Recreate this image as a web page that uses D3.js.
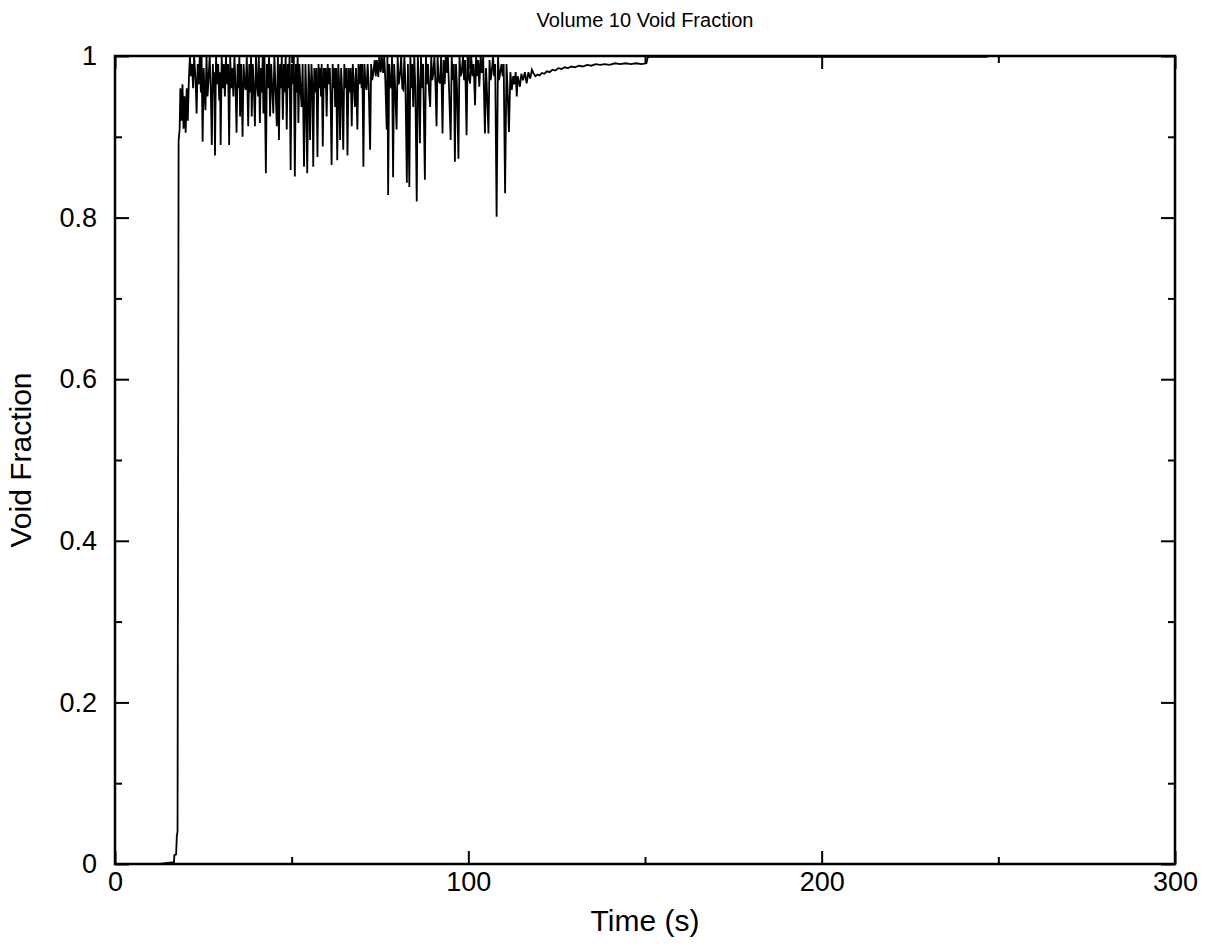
<!DOCTYPE html>
<html>
<head>
<meta charset="utf-8">
<script src="https://cdn.jsdelivr.net/npm/d3@7"></script>
<style>
  body { margin: 0; background: #fff; }
  text { font-family: "Liberation Sans", Arial, sans-serif; }
</style>
</head>
<body>
<div id="chart"></div>
<script>
// time (s), void fraction
const initialRise = [
  [0, 0], [12.7, 0], [16.0, 0.002], [16.7, 0.002], [16.8, 0.011], [17.3, 0.012],
  [17.5, 0.035], [17.7, 0.04], [18.0, 0.895], [18.3, 0.91], [18.5, 0.96],
  [18.8, 0.92], [19.1, 0.965], [19.4, 0.91], [19.7, 0.95], [20.0, 0.905],
  [20.3, 0.96], [20.6, 0.92], [20.9, 0.97]
];

const oscillation = [
  [21.2, 1], [21.5, 0.975], [21.8, 0.99], [22.1, 0.96], [22.4, 1], [22.8, 0.97], [23.1, 0.929],
  [23.4, 0.99], [23.7, 0.965], [24.0, 1], [24.3, 0.955], [24.5, 1], [24.8, 0.894], [25.1, 0.985],
  [25.3, 0.96], [25.6, 0.933], [25.9, 1], [26.2, 0.95], [26.5, 0.975], [26.8, 1], [27.1, 0.96],
  [27.4, 0.89], [27.7, 0.99], [27.9, 0.955], [28.1, 0.98], [28.3, 0.877], [28.6, 1], [28.9, 0.965],
  [29.2, 0.99], [29.5, 0.945], [29.7, 0.98], [29.9, 0.89], [30.2, 1], [30.5, 0.96], [30.8, 0.99],
  [31.1, 0.95], [31.4, 1], [31.7, 0.965], [32.0, 0.99], [32.3, 0.89], [32.6, 1], [32.9, 0.96],
  [33.2, 0.985], [33.5, 0.95], [33.8, 1], [34.1, 0.965], [34.4, 0.905], [34.7, 0.99], [35.0, 0.96],
  [35.2, 1], [35.4, 0.925], [35.7, 0.99], [36.1, 0.9], [36.4, 0.99], [36.7, 0.965], [37.0, 0.958],
  [37.3, 1], [37.7, 0.913], [38.0, 0.99], [38.3, 0.955], [38.5, 1], [38.7, 0.925], [39.0, 0.99],
  [39.3, 0.96], [39.6, 0.913], [39.9, 1], [40.2, 0.965], [40.5, 0.95], [40.7, 1], [41.0, 0.917],
  [41.3, 0.985], [41.6, 0.955], [41.8, 1], [42.0, 0.929], [42.3, 1], [42.7, 0.855], [43.0, 0.99],
  [43.3, 0.96], [43.6, 1], [43.9, 0.925], [44.2, 0.99], [44.5, 0.96], [44.8, 0.929], [45.1, 1],
  [45.4, 0.965], [45.8, 0.913], [46.1, 1], [46.4, 0.896], [46.7, 0.99], [47.0, 0.96], [47.2, 1],
  [47.5, 0.921], [47.8, 0.99], [48.1, 0.955], [48.3, 1], [48.6, 0.909], [48.9, 0.99], [49.2, 0.96],
  [49.4, 1], [49.7, 0.859], [50.0, 0.99], [50.3, 0.965], [50.6, 1], [50.9, 0.851], [51.2, 0.99],
  [51.5, 0.955], [51.7, 1], [51.9, 0.917], [52.2, 0.99], [52.5, 0.96], [52.8, 0.937], [53.1, 0.99],
  [53.5, 0.863], [53.9, 0.99], [54.1, 0.96], [54.4, 0.855], [54.8, 0.99], [55.0, 0.97],
  [55.2, 0.896], [55.6, 0.99], [55.9, 0.96], [56.1, 0.863], [56.4, 0.985], [56.7, 0.955],
  [57.0, 0.985], [57.3, 0.875], [57.6, 0.99], [57.9, 0.96], [58.1, 0.985], [58.3, 0.95],
  [58.5, 0.99], [58.8, 0.888], [59.1, 0.985], [59.4, 0.96], [59.6, 0.985], [59.9, 0.925],
  [60.2, 0.99], [60.5, 0.965], [60.8, 0.985], [61.0, 0.955], [61.3, 0.865], [61.6, 0.99],
  [61.9, 0.96], [62.1, 0.985], [62.3, 0.937], [62.6, 0.985], [62.9, 0.871], [63.2, 0.99],
  [63.5, 0.96], [63.7, 0.896], [64.0, 0.985], [64.3, 0.955], [64.6, 0.884], [64.9, 0.99],
  [65.2, 0.96], [65.5, 0.985], [65.8, 0.877], [66.1, 0.985], [66.4, 0.955], [66.7, 0.985],
  [67.0, 0.913], [67.3, 0.99], [67.6, 0.965], [67.9, 0.937], [68.2, 0.985], [68.6, 0.909],
  [68.9, 0.99], [69.2, 0.965], [69.5, 0.99], [69.8, 0.96], [70.0, 0.99], [70.3, 0.863],
  [70.6, 0.99], [70.9, 0.965], [71.2, 0.958], [71.5, 0.99], [71.8, 0.965], [72.2, 0.884],
  [72.5, 0.99], [72.8, 0.97], [73.1, 0.979], [73.5, 0.995], [73.8, 0.975], [74.1, 0.995],
  [74.5, 0.974], [74.8, 1], [75.2, 0.98], [75.5, 1], [75.9, 0.979], [76.2, 1], [76.5, 0.97],
  [76.9, 0.909], [77.1, 1], [77.3, 0.828], [77.6, 0.99], [77.9, 0.965], [78.2, 0.96], [78.4, 1],
  [78.7, 0.85], [79.0, 0.99], [79.3, 0.96], [79.7, 0.909], [80.0, 1], [80.3, 0.965], [80.7, 0.979],
  [81.0, 1], [81.3, 0.96], [81.6, 0.958], [81.9, 1], [82.2, 0.965], [82.6, 0.843], [82.9, 0.99],
  [83.3, 0.838], [83.6, 1], [83.9, 0.96], [84.1, 0.99], [84.4, 0.937], [84.7, 1], [85.0, 0.96],
  [85.4, 0.82], [85.7, 1], [86.0, 0.965], [86.3, 0.892], [86.6, 1], [86.9, 0.96], [87.2, 0.99],
  [87.7, 0.847], [88.0, 1], [88.3, 0.965], [88.6, 0.99], [88.9, 0.955], [89.2, 0.937], [89.5, 1],
  [89.8, 0.97], [90.1, 0.979], [90.4, 1], [90.7, 0.965], [91.0, 0.913], [91.3, 1], [91.6, 0.97],
  [92.0, 0.966], [92.3, 1], [92.7, 0.904], [93.0, 0.995], [93.3, 0.965], [93.6, 1], [93.9, 0.979],
  [94.2, 1], [94.5, 0.965], [95.0, 0.896], [95.3, 1], [95.6, 0.97], [95.9, 0.99], [96.2, 0.869],
  [96.5, 0.99], [96.8, 0.96], [97.2, 0.873], [97.5, 1], [97.8, 0.975], [98.1, 0.979], [98.5, 1],
  [98.8, 0.97], [99.1, 0.995], [99.5, 0.902], [99.8, 1], [100.1, 0.975], [100.5, 0.966],
  [100.8, 1], [101.2, 0.975], [101.5, 0.99], [101.9, 0.939], [102.2, 1], [102.5, 0.975],
  [102.8, 0.995], [103.1, 0.962], [103.5, 1], [103.8, 0.979], [104.2, 1], [104.7, 0.904],
  [105.0, 0.985], [105.2, 0.965], [105.7, 0.904], [106.0, 0.995], [106.3, 0.97], [106.6, 0.979],
  [107.0, 1], [107.3, 0.975], [107.6, 0.99], [108.0, 0.801], [108.4, 1], [108.7, 0.97],
  [109.0, 0.979], [109.4, 0.99], [109.7, 0.975], [110.0, 0.99], [110.4, 0.83], [110.8, 0.99],
  [111.1, 0.96], [111.5, 0.906], [111.9, 0.98], [112.3, 0.958], [112.7, 0.975], [113.0, 0.965],
  [113.4, 0.98], [113.7, 0.95], [114.0, 0.975], [114.3, 0.968], [114.6, 0.962], [115.0, 0.978],
  [115.5, 0.97], [116.0, 0.98], [116.5, 0.966], [117.0, 0.98], [117.5, 0.972], [118.0, 0.983],
  [118.4, 0.979]
];

const settling = [
  [119.0, 0.975], [119.6, 0.977], [120.2, 0.976], [120.8, 0.979], [121.5, 0.978], [122.2, 0.981],
  [123.0, 0.98], [123.8, 0.983], [124.6, 0.982], [125.5, 0.985], [126.4, 0.984], [127.3, 0.986],
  [128.2, 0.985], [129.2, 0.987], [130.2, 0.986], [131.3, 0.988], [132.4, 0.987], [133.6, 0.989],
  [134.8, 0.988], [136.0, 0.99], [137.3, 0.989], [138.6, 0.99], [140.0, 0.989], [141.5, 0.991],
  [143.0, 0.99], [144.5, 0.991], [146.0, 0.99], [147.5, 0.991], [149.0, 0.99], [150.4, 0.991],
  [150.8, 0.999], [200.0, 0.999], [247.0, 0.999]
];

const xMajor = [0, 100, 200, 300];
const xMinor = [50, 150, 250];
const yMajor = [0, 0.2, 0.4, 0.6, 0.8, 1];
const yMinor = [0.1, 0.3, 0.5, 0.7, 0.9];

const data = initialRise.concat(oscillation, settling);

const margin = { top: 56, right: 33, bottom: 84, left: 115 },
      width = 1208 - margin.left - margin.right,
      height = 948 - margin.top - margin.bottom;

const svg = d3.select("#chart")
  .append("svg")
    .attr("width", 1208)
    .attr("height", 948)
  .append("g")
    .attr("transform", `translate(${margin.left},${margin.top})`);

const x = d3.scaleLinear().domain([0, 300]).range([0, width]);
const y = d3.scaleLinear().domain([0, 1]).range([height, 0]);

const fmt = d3.format("~g");

// data line
svg.append("path")
  .datum(data)
  .attr("fill", "none")
  .attr("stroke", "#000")
  .attr("stroke-width", 1.8)
  .attr("d", d3.line().x(d => x(d[0])).y(d => y(d[1])));

// axes, ticks pointing inward on all four sides
function styleAxis(g) {
  g.select(".domain").remove();
  g.selectAll(".tick line").attr("stroke", "#000").attr("stroke-width", 2);
  g.selectAll(".tick text")
    .attr("fill", "#000")
    .style("font-family", "'Liberation Sans', Arial, sans-serif")
    .style("font-size", "27px");
}

svg.append("g")
  .attr("transform", `translate(0,${height})`)
  .call(d3.axisBottom(x).tickValues(xMajor).tickSize(-13).tickPadding(8).tickFormat(fmt))
  .call(styleAxis);
svg.append("g")
  .attr("transform", `translate(0,${height})`)
  .call(d3.axisBottom(x).tickValues(xMinor).tickSize(-7).tickFormat(""))
  .call(styleAxis);
svg.append("g")
  .call(d3.axisTop(x).tickValues(xMajor).tickSize(-13).tickFormat(""))
  .call(styleAxis);
svg.append("g")
  .call(d3.axisTop(x).tickValues(xMinor).tickSize(-7).tickFormat(""))
  .call(styleAxis);

svg.append("g")
  .call(d3.axisLeft(y).tickValues(yMajor).tickSize(-14).tickPadding(18).tickFormat(fmt))
  .call(styleAxis);
svg.append("g")
  .call(d3.axisLeft(y).tickValues(yMinor).tickSize(-7).tickFormat(""))
  .call(styleAxis);
svg.append("g")
  .attr("transform", `translate(${width},0)`)
  .call(d3.axisRight(y).tickValues(yMajor).tickSize(-14).tickFormat(""))
  .call(styleAxis);
svg.append("g")
  .attr("transform", `translate(${width},0)`)
  .call(d3.axisRight(y).tickValues(yMinor).tickSize(-7).tickFormat(""))
  .call(styleAxis);

// frame
svg.append("rect")
  .attr("width", width)
  .attr("height", height)
  .attr("fill", "none")
  .attr("stroke", "#000")
  .attr("stroke-width", 2.5);

// title and axis labels
svg.append("text")
  .attr("x", width / 2)
  .attr("y", -29)
  .attr("text-anchor", "middle")
  .style("font-size", "20px")
  .text("Volume 10 Void Fraction");

svg.append("text")
  .attr("x", width / 2)
  .attr("y", height + 67)
  .attr("text-anchor", "middle")
  .style("font-size", "30px")
  .text("Time (s)");

svg.append("text")
  .attr("transform", "rotate(-90)")
  .attr("x", -height / 2)
  .attr("y", -84)
  .attr("text-anchor", "middle")
  .style("font-size", "30px")
  .text("Void Fraction");
</script>
</body>
</html>
